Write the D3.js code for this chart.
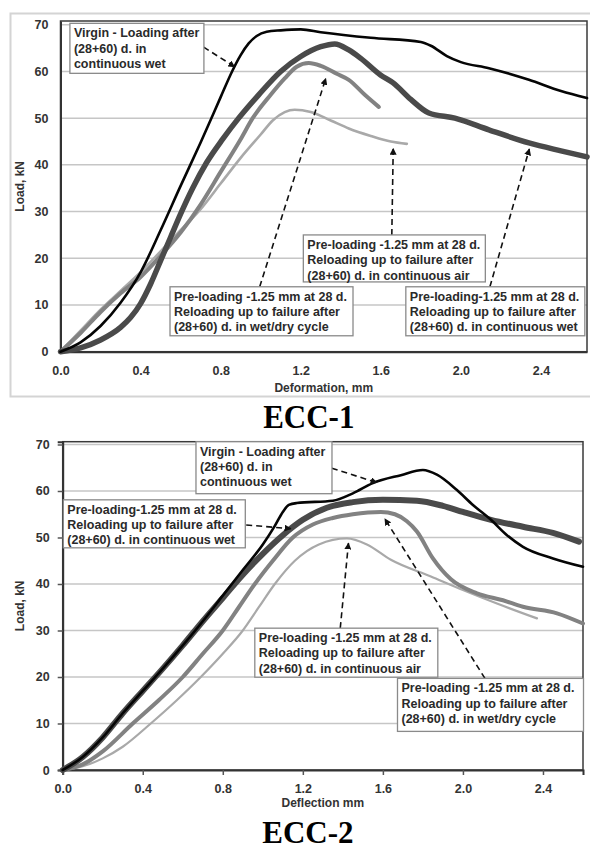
<!DOCTYPE html>
<html lang="en">
<head>
<meta charset="UTF-8">
<title>ECC-1 / ECC-2 load curves</title>
<style>
  body { margin: 0; background: #fff; }
  svg text { font-family: "Liberation Sans", Arial, sans-serif; font-weight: bold; }
</style>
</head>
<body>
<script src="https://cdn.jsdelivr.net/npm/d3@7.8.5/dist/d3.min.js"></script>
<script>
// ---- data (deformation mm, load kN) ----
const xTicks = [0.0, 0.4, 0.8, 1.2, 1.6, 2.0, 2.4];
const yTicks = [0, 10, 20, 30, 40, 50, 60, 70];

// ECC-1
const ecc1Virgin = [[0,0],[0.1,2],[0.2,5.5],[0.3,10.5],[0.4,17],[0.5,26],[0.6,35.5],[0.7,44.8],[0.8,54.5],[0.857,60],
  [0.9,63.5],[0.94,66],[0.98,67.6],[1.03,68.5],[1.1,68.8],[1.2,69],[1.3,68.4],[1.55,67.2],[1.8,66.3],[1.85,65.5],
  [1.93,63.3],[2.0,62],[2.14,60.7],[2.34,58.2],[2.5,55.8],[2.63,54.3]];
const ecc1Wet = [[0,0],[0.1,0.8],[0.2,2.5],[0.3,5.2],[0.35,7.3],[0.4,10.3],[0.45,14.5],[0.5,19.5],[0.55,24.5],[0.6,29.5],
  [0.66,35],[0.73,40.5],[0.81,45.5],[0.89,50],[0.99,55],[1.1,60],[1.2,63.2],[1.3,65.3],[1.37,65.9],[1.44,64.6],[1.5,62.8],
  [1.6,59.2],[1.66,57.6],[1.75,54],[1.84,51.1],[1.97,50],[2.14,47.5],[2.34,44.7],[2.5,43],[2.63,41.7]];
const ecc1WetDry = [[0,0],[0.1,4],[0.2,8.5],[0.3,12.5],[0.4,16],[0.5,20.5],[0.6,25.5],[0.7,31.5],[0.8,38.5],[0.9,45.5],
  [0.96,50],[1.05,55],[1.12,58.5],[1.18,61],[1.24,61.8],[1.3,61.2],[1.38,59.5],[1.44,58.2],[1.52,55],[1.59,52.4]];
const ecc1Air = [[0,0],[0.1,4.5],[0.2,9],[0.3,13],[0.4,17],[0.5,21.5],[0.6,26],[0.7,30.5],[0.8,36],[0.9,41.5],
  [1.0,46.5],[1.06,49.5],[1.12,51.3],[1.17,51.8],[1.25,51.3],[1.35,49.5],[1.44,47.8],[1.55,46.2],[1.65,45],[1.73,44.5]];

// ECC-2
const ecc2Virgin = [[0,0],[0.1,2.8],[0.2,7],[0.3,12.2],[0.4,17],[0.5,21.8],[0.6,26.8],[0.7,32],[0.8,37.5],[0.9,43],
  [1.0,48.5],[1.06,52.5],[1.1,55.5],[1.13,57],[1.17,57.4],[1.35,57.9],[1.45,59.5],[1.55,61.7],[1.69,63.4],[1.8,64.5],
  [1.87,63.5],[1.97,60.2],[2.05,57],[2.14,53.8],[2.22,50.5],[2.3,48],[2.45,45.5],[2.6,43.7]];
const ecc2Wet = [[0,0],[0.1,2.8],[0.2,7],[0.3,12.2],[0.4,17],[0.5,21.8],[0.6,26.8],[0.7,32],[0.8,37],[0.9,42],
  [1.0,46.5],[1.1,50.5],[1.2,53.8],[1.32,56.4],[1.45,57.6],[1.6,58.1],[1.77,57.9],[1.9,56.8],[2.0,55.5],[2.14,53.8],
  [2.3,52.3],[2.45,51],[2.58,49.1]];
const ecc2WetDry = [[0,0],[0.1,1.2],[0.2,4],[0.35,10],[0.48,15],[0.6,20],[0.7,25],[0.8,30],[0.88,35],[0.96,40],
  [1.05,45],[1.15,50],[1.25,52.8],[1.35,54.2],[1.45,55],[1.59,55.5],[1.66,55],[1.72,53.5],[1.77,51.3],[1.85,45.5],
  [1.94,41],[2.07,38],[2.2,36.5],[2.3,35.1],[2.47,33.7],[2.6,31.5]];
const ecc2Air = [[0,0],[0.1,0.8],[0.2,2.5],[0.3,5],[0.44,10],[0.57,15],[0.69,20],[0.8,25],[0.9,30],[0.98,35],
  [1.06,40],[1.16,45],[1.28,48.5],[1.42,49.8],[1.52,48.5],[1.64,45.2],[1.84,41.6],[2.0,38.7],[2.17,35.8],[2.37,32.6]];

// annotation texts
const txtVirgin = ["Virgin - Loading after", "(28+60) d. in", "continuous wet"];
const txtWetDry = ["Pre-loading -1.25 mm at 28 d.", "Reloading up to failure after", "(28+60) d. in wet/dry cycle"];
const txtAir = ["Pre-loading -1.25 mm at 28 d.", "Reloading up to failure after", "(28+60) d. in continuous air"];
const txtWet = ["Pre-loading-1.25 mm at 28 d.", "Reloading up to failure after", "(28+60) d. in continuous wet"];

const svg = d3.select("body").append("svg").attr("width", 590).attr("height", 850);

const defs = svg.append("defs");
defs.append("marker").attr("id", "arrow")
  .attr("viewBox", "0 0 10 10").attr("refX", 9).attr("refY", 5)
  .attr("markerWidth", 7).attr("markerHeight", 7).attr("orient", "auto-start-reverse")
  .attr("markerUnits", "userSpaceOnUse")
  .append("path").attr("d", "M0,0 L10,5 L0,10 Z").attr("fill", "#111");

// outer frame of the top chart
svg.append("rect").attr("x", 10.5).attr("y", 13.5).attr("width", 585).attr("height", 383)
  .attr("fill", "none").attr("stroke", "#d4d4d4").attr("stroke-width", 2);

function drawPanel(p) {
  const x = d3.scaleLinear().domain([0, p.xMax]).range([p.left, p.right]);
  const y = d3.scaleLinear().domain([0, p.yMax]).range([p.bottom, p.top]);
  const g = svg.append("g");

  // gridlines
  g.append("g").selectAll("line").data(yTicks.filter(d => d > 0)).join("line")
    .attr("x1", p.left).attr("x2", p.right)
    .attr("y1", d => y(d)).attr("y2", d => y(d))
    .attr("stroke", "#c6c6c6").attr("stroke-width", 1.5);

  // frame
  g.append("rect").attr("x", p.left).attr("y", p.top)
    .attr("width", p.right - p.left).attr("height", p.bottom - p.top)
    .attr("fill", "none").attr("stroke", "#3a3a3a").attr("stroke-width", 1.5);

  // axes
  const ax = g.append("g").attr("transform", `translate(0,${p.bottom})`)
    .call(d3.axisBottom(x).tickValues(xTicks).tickFormat(d3.format(".1f")).tickSize(p.ticks ? 5 : 0).tickPadding(p.ticks ? 9 : 14));
  const ay = g.append("g").attr("transform", `translate(${p.left},0)`)
    .call(d3.axisLeft(y).tickValues(yTicks).tickSize(p.ticks ? 5 : 0).tickPadding(p.ticks ? 8 : 12));
  [ax, ay].forEach(a => {
    a.select(".domain").attr("stroke", "#333").attr("stroke-width", 2);
    a.selectAll(".tick line").attr("stroke", "#555").attr("stroke-width", 1.5);
    a.selectAll("text").attr("font-size", 12.5).attr("fill", "#333")
      .attr("font-family", "Liberation Sans, Arial, sans-serif").attr("font-weight", "bold");
  });

  // axis titles
  g.append("text").attr("x", (p.left + p.right) / 2).attr("y", p.bottom + p.xLabelGap)
    .attr("text-anchor", "middle").attr("font-size", 12).attr("fill", "#333").text(p.xLabel);
  g.append("text").attr("transform", `translate(24,${(p.top + p.bottom) / 2}) rotate(-90)`)
    .attr("text-anchor", "middle").attr("font-size", 12).attr("fill", "#333").text("Load, kN");

  // curves
  const line = d3.line().x(d => x(d[0])).y(d => y(d[1])).curve(d3.curveMonotoneX);
  p.series.forEach(s => {
    g.append("path").datum(s.data).attr("d", line)
      .attr("fill", "none").attr("stroke", s.color).attr("stroke-width", s.width)
      .attr("stroke-linejoin", "round").attr("stroke-linecap", "round");
  });

  // callouts
  p.notes.forEach(n => {
    g.append("line")
      .attr("x1", x(n.from[0])).attr("y1", y(n.from[1]))
      .attr("x2", x(n.to[0])).attr("y2", y(n.to[1]))
      .attr("stroke", "#111").attr("stroke-width", 1.6).attr("stroke-dasharray", "6,4")
      .attr("marker-end", "url(#arrow)");
    const bx = x(n.box[0]), by = y(n.box[1]);
    g.append("rect").attr("x", bx).attr("y", by).attr("width", n.w).attr("height", n.h)
      .attr("fill", "#fff").attr("stroke", "#8a8a8a").attr("stroke-width", 1.3);
    const t = g.append("text").attr("x", bx + 4).attr("y", by + 14)
      .attr("font-size", 12.5).attr("fill", "#2a2a2a");
    n.text.forEach((s, i) => t.append("tspan").attr("x", bx + 4).attr("dy", i ? 15.3 : 0).text(s));
  });

  // title under the chart
  svg.append("text")
    .attr("transform", `translate(${(p.left + p.right) / 2 - 15},${p.titleY}) scale(1,${p.titleStretch})`)
    .attr("text-anchor", "middle")
    .style("font-family", "'Liberation Serif', 'Times New Roman', serif")
    .style("font-weight", "bold").attr("font-size", 31).attr("fill", "#000").text(p.title);
}

drawPanel({
  left: 60.5, right: 587, top: 21, bottom: 351.7, xMax: 2.63, yMax: 70.8, ticks: false,
  xLabel: "Deformation, mm", xLabelGap: 40, title: "ECC-1", titleY: 428, titleStretch: 1.1,
  series: [
    { data: ecc1Air, color: "#a9a9a9", width: 2.6 },
    { data: ecc1WetDry, color: "#828282", width: 4 },
    { data: ecc1Wet, color: "#4a4a4a", width: 5.5 },
    { data: ecc1Virgin, color: "#050505", width: 2.6 }
  ],
  notes: [
    { text: txtVirgin, box: [0.047, 70.3], w: 134, h: 50, from: [0.715, 65.2], to: [0.87, 61] },
    { text: txtWetDry, box: [0.547, 13.9], w: 183, h: 49, from: [0.995, 13.9], to: [1.325, 58.5] },
    { text: txtAir, box: [1.213, 25], w: 182, h: 47, from: [1.655, 25], to: [1.662, 43.5] },
    { text: txtWet, box: [1.725, 13.9], w: 179, h: 49, from: [2.145, 13.9], to: [2.342, 43.4] }
  ]
});

drawPanel({
  left: 62.7, right: 583, top: 441.7, bottom: 770, xMax: 2.6, yMax: 70.6, ticks: true,
  xLabel: "Deflection mm", xLabelGap: 37, title: "ECC-2", titleY: 843, titleStretch: 1,
  series: [
    { data: ecc2Air, color: "#a9a9a9", width: 2.2 },
    { data: ecc2WetDry, color: "#828282", width: 4 },
    { data: ecc2Wet, color: "#4a4a4a", width: 6 },
    { data: ecc2Virgin, color: "#050505", width: 2.6 }
  ],
  notes: [
    { text: txtVirgin, box: [0.666, 70.6], w: 136, h: 52, from: [1.345, 64.9], to: [1.57, 61.8] },
    { text: txtWet, box: [0.003, 58.1], w: 182, h: 48, from: [0.917, 52.7], to: [1.14, 51.9] },
    { text: txtAir, box: [0.96, 30.5], w: 183, h: 49, from: [1.387, 30.5], to: [1.428, 48.8] },
    { text: txtWetDry, box: [1.673, 19.7], w: 186, h: 53, from: [2.11, 19.7], to: [1.61, 54] }
  ]
});
</script>
</body>
</html>
